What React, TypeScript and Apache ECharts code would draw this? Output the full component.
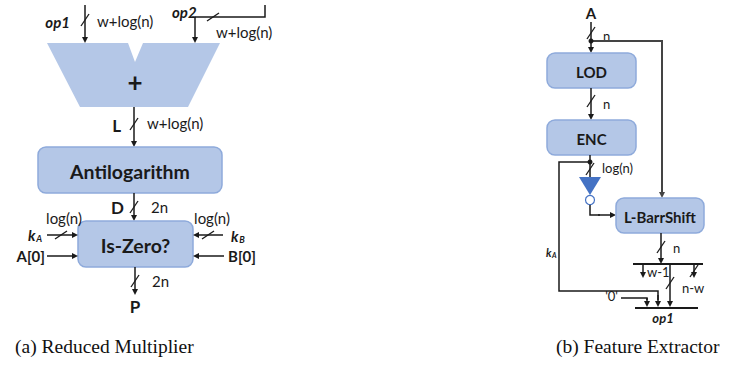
import React, { useEffect, useRef } from "react";
import * as echarts from "echarts";

// ---- Labels (content) ----
const panelCaptions = ["(a) Reduced Multiplier", "(b) Feature Extractor"];
const multiplierBlocks = ["Antilogarithm", "Is-Zero?"];
const extractorBlocks = ["LOD", "ENC", "L-BarrShift"];
const widthLabels = ["w+log(n)", "2n", "log(n)", "n", "w-1", "n-w"];
const signalNames = ["op1", "op2", "L", "D", "P", "A[0]", "B[0]", "A", "'0'"];

const INK = "#1a1a1a";
const BOX_FILL = "#b4c7e7";
const BOX_STROKE = "#8eaadb";
const FONT = "Lato, 'Noto Sans', sans-serif";

type El = any;

function line(x1: number, y1: number, x2: number, y2: number, w = 1.5, c = INK): El {
  return { type: "line", shape: { x1, y1, x2, y2 }, style: { stroke: c, lineWidth: w }, silent: true };
}
function poly(points: number[][], w = 1.5, c = INK): El {
  return { type: "polyline", shape: { points }, style: { stroke: c, lineWidth: w, fill: null }, silent: true };
}
function arrow(x1: number, y1: number, x2: number, y2: number, w = 1.5, c = INK): El[] {
  const dx = x2 - x1, dy = y2 - y1;
  const len = Math.sqrt(dx * dx + dy * dy);
  const ux = dx / len, uy = dy / len;
  const L = 6, H = 3;
  const bx = x2 - ux * L, by = y2 - uy * L;
  return [
    line(x1, y1, bx + ux, by + uy, w, c),
    {
      type: "polygon",
      shape: { points: [[x2, y2], [bx - uy * H, by + ux * H], [bx + uy * H, by - ux * H]] },
      style: { fill: c },
      silent: true,
    },
  ];
}
function slashV(cx: number, cy: number): El {
  return line(cx - 4, cy + 6, cx + 4, cy - 6, 1.3);
}
function slashH(cx: number, cy: number): El {
  return line(cx - 6, cy + 4, cx + 6, cy - 4, 1.3);
}
function text(t: string, x: number, y: number, font: string, align = "left", fill = INK): El {
  return {
    type: "text",
    x,
    y,
    style: { text: t, font, fill, textAlign: align, textVerticalAlign: "middle", align, verticalAlign: "middle" },
    silent: true,
  };
}
function box(label: string, x: number, y: number, w: number, h: number, font: string): El[] {
  return [
    {
      type: "rect",
      shape: { x, y, width: w, height: h, r: 8 },
      style: { fill: BOX_FILL, stroke: BOX_STROKE, lineWidth: 1.5 },
      silent: true,
    },
    text(label, x + w / 2, y + h / 2 + 1, font, "center"),
  ];
}
function dot(cx: number, cy: number): El {
  return { type: "circle", shape: { cx, cy, r: 2.5 }, style: { fill: INK }, silent: true };
}
function kSub(sub: string, x: number, y: number, size: number): El[] {
  return [
    text("k", x, y, `italic bold ${size}px ${FONT}`, "left"),
    text(sub, x + size * 0.55, y + size * 0.25, `italic bold ${Math.round(size * 0.62)}px ${FONT}`, "left"),
  ];
}

function buildElements(): El[] {
  const els: El[] = [];
  const lbl = `15px ${FONT}`;
  const bi = `italic bold 15px ${FONT}`;
  const [wlog, twoN, logn, nn, wm1, nmw] = widthLabels;
  const [op1, op2, L, D, P, A0, B0, A, zero] = signalNames;

  // ================= Panel (a) =================
  // op1
  els.push(text(op1, 70, 22, bi, "right"));
  els.push(...arrow(85, 5, 85, 43));
  els.push(slashV(85, 20));
  els.push(text(wlog, 97, 21, lbl));
  // op2
  els.push(text(op2, 172, 12, bi, "left"));
  els.push(poly([[265, 5], [265, 17], [195, 17]]));
  els.push(...arrow(195, 17, 195, 43));
  els.push(slashH(213, 17));
  els.push(text(wlog, 216, 32, lbl));
  // adder trapezoid
  els.push({
    type: "polygon",
    shape: { points: [[47, 43], [128, 43], [135, 62], [143, 43], [220, 43], [188, 107], [80, 107]] },
    style: { fill: BOX_FILL },
    silent: true,
  });
  els.push(text("+", 135, 82, `bold 26px ${FONT}`, "center"));
  // L
  els.push(...arrow(134, 107, 134, 147));
  els.push(slashV(134, 124));
  els.push(text(L, 121, 125, `bold 17px ${FONT}`, "right"));
  els.push(text(wlog, 147, 123, lbl));
  // Antilogarithm
  els.push(...box(multiplierBlocks[0], 38, 147, 184, 46, `bold 19.5px ${FONT}`));
  // D
  els.push(...arrow(134, 193, 134, 221));
  els.push(slashV(134, 207));
  els.push(text(D, 124, 207, `bold 17px ${FONT}`, "right"));
  els.push(text(twoN, 151, 207, lbl));
  // Is-Zero
  els.push(...box(multiplierBlocks[1], 78, 221, 115, 46, `bold 19.5px ${FONT}`));
  // left inputs
  els.push(text(logn, 64, 218, lbl, "center"));
  els.push(...kSub("A", 28, 235, 15));
  els.push(...arrow(47, 235, 78, 235));
  els.push(slashH(61, 235));
  els.push(text(A0, 45, 256, `bold 15px ${FONT}`, "right"));
  els.push(...arrow(47, 256, 78, 256));
  // right inputs
  els.push(text(logn, 212, 218, lbl, "center"));
  els.push(...kSub("B", 231, 236, 15));
  els.push(...arrow(223, 235, 193, 235));
  els.push(slashH(208, 235));
  els.push(text(B0, 228, 256, `bold 15px ${FONT}`, "left"));
  els.push(...arrow(224, 256, 193, 256));
  // P
  els.push(...arrow(135, 267, 135, 295));
  els.push(slashV(135, 281));
  els.push(text(twoN, 152, 281, lbl));
  els.push(text(P, 135, 306, `bold 17px ${FONT}`, "center"));

  // ================= Panel (b) =================
  const sm = `13px ${FONT}`;
  els.push(text(A, 591, 13, `bold 15px ${FONT}`, "center"));
  els.push(...arrow(591, 22, 591, 53));
  els.push(slashV(591, 33));
  els.push(text(nn, 603, 36, sm));
  els.push(poly([[591, 41], [662, 41], [662, 150]], 2, "#444"));
  els.push(...arrow(662, 150, 662, 198, 2, "#444"));
  els.push(dot(591, 41));
  els.push(...box(extractorBlocks[0], 547, 53, 89, 35, `bold 15px ${FONT}`));
  els.push(...arrow(591, 88, 591, 120));
  els.push(slashV(591, 101));
  els.push(text(nn, 603, 104, sm));
  els.push(...box(extractorBlocks[1], 547, 120, 89, 35, `bold 15px ${FONT}`));
  // ENC output
  els.push(line(590, 155, 590, 177));
  els.push(dot(590, 162));
  els.push(slashV(590, 169));
  els.push(text(logn, 602, 168, sm));
  // kA path
  els.push(poly([[590, 162], [559, 162], [559, 291], [658, 291], [658, 300]]));
  els.push(...arrow(658, 295, 658, 307));
  els.push(...kSub("A", 546, 252, 11));
  // inverter
  els.push({
    type: "polygon",
    shape: { points: [[579, 177], [601, 177], [590, 195]] },
    style: { fill: "#4472c4" },
    silent: true,
  });
  els.push({
    type: "circle",
    shape: { cx: 590, cy: 200, r: 4.5 },
    style: { fill: "#ffffff", stroke: "#4472c4", lineWidth: 1.2 },
    silent: true,
  });
  els.push(poly([[590, 205], [590, 215], [600, 215]]));
  els.push(...arrow(598, 215, 616, 215));
  els.push(...box(extractorBlocks[2], 616, 198, 88, 35, `bold 15px ${FONT}`));
  // shifter output
  els.push(...arrow(661, 233, 661, 264));
  els.push(slashV(661, 247));
  els.push(text(nn, 673, 248, sm));
  els.push(line(633, 264, 703, 264, 2));
  els.push(...arrow(643, 264, 643, 278));
  els.push(text(wm1, 647, 272, sm));
  els.push(...arrow(670, 264, 670, 307));
  els.push(slashV(670, 283));
  els.push(...arrow(694, 264, 694, 278));
  els.push(slashV(694, 271));
  els.push(text(nmw, 682, 288, sm));
  // '0'
  els.push(text(zero, 618, 296, sm, "right"));
  els.push(poly([[621, 298], [647, 298], [647, 300]]));
  els.push(...arrow(647, 298, 647, 307));
  els.push(line(635, 308, 698, 308, 2));
  els.push(text(op1, 663, 318, `italic bold 13px ${FONT}`, "center"));

  // captions
  const cap = `19.5px 'Liberation Serif', 'DejaVu Serif', serif`;
  els.push(text(panelCaptions[0], 15, 346, cap, "left", "#111"));
  els.push(text(panelCaptions[1], 556, 346, cap, "left", "#111"));
  return els;
}

export default function App() {
  const ref = useRef<HTMLDivElement>(null);
  useEffect(() => {
    if (!ref.current) return;
    const chart = echarts.init(ref.current, undefined, { renderer: "svg" });
    chart.setOption({
      animation: false,
      backgroundColor: "#ffffff",
      graphic: { elements: buildElements() },
    });
    return () => chart.dispose();
  }, []);
  return (
    <div
      ref={ref}
      style={{ position: "fixed", left: 0, top: 0, width: 743, height: 367, background: "#fff" }}
    />
  );
}
